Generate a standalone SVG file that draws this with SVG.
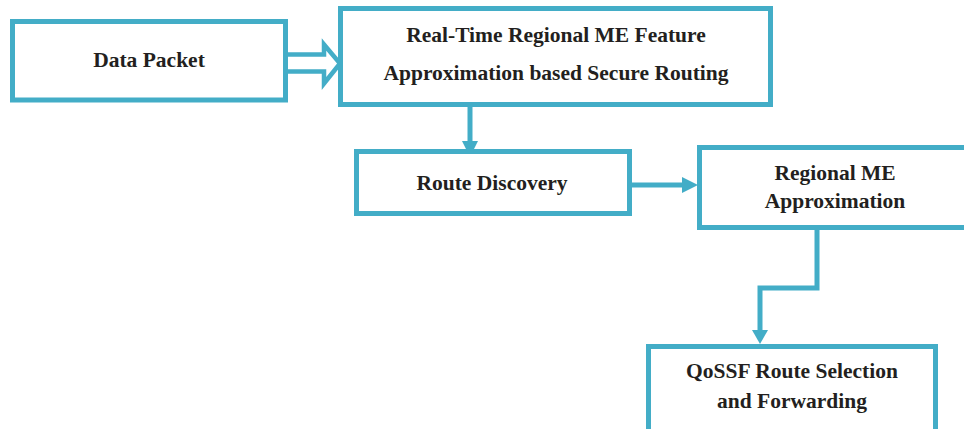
<svg xmlns="http://www.w3.org/2000/svg" width="964" height="429" viewBox="0 0 964 429">
  <defs>
    <style>
      .box { fill: #ffffff; stroke: #43adc7; stroke-width: 5; }
      .link { fill: none; stroke: #43adc7; stroke-width: 5; }
      .head { fill: #43adc7; }
      .label { font-family: "Liberation Serif", "Times New Roman", serif; font-weight: bold; font-size: 21.5px; fill: #231f20; text-anchor: middle; }
    </style>
  </defs>
  <rect width="964" height="429" fill="#ffffff"/>

  <!-- connectors -->
  <g id="connectors">
    <!-- hollow block arrow: Data Packet to secure routing -->
    <path d="M286,54.5 H324 V44.5 L340,63.5 L324,83.5 V71.5 H286" fill="#ffffff" stroke="#43adc7" stroke-width="4.5" stroke-linejoin="miter"/>
    <!-- secure routing to route discovery -->
    <line class="link" x1="470" y1="106" x2="470" y2="143"/>
    <polygon class="head" points="462,141 478,141 470,157"/>
    <!-- route discovery to regional ME approximation -->
    <line class="link" x1="632" y1="185" x2="684" y2="185"/>
    <polygon class="head" points="682,177 682,193 698,185"/>
    <!-- regional ME approximation to QoSSF selection -->
    <polyline class="link" points="817,229 817,288 760,288 760,332"/>
    <polygon class="head" points="752,330 768,330 760,344"/>
  </g>

  <g id="data-packet">
    <rect class="box" x="12.5" y="21.5" width="273" height="78.5"/>
    <text class="label" x="149" y="67">Data Packet</text>
  </g>

  <g id="secure-routing">
    <rect class="box" x="340.5" y="8.5" width="430" height="96"/>
    <text class="label" x="556" y="42">Real-Time Regional ME Feature</text>
    <text class="label" x="556" y="80">Approximation based Secure Routing</text>
  </g>

  <g id="route-discovery">
    <rect class="box" x="356.5" y="151.5" width="273" height="62"/>
    <text class="label" x="492" y="190">Route Discovery</text>
  </g>

  <g id="regional-me">
    <rect class="box" x="699.5" y="147.5" width="280" height="80"/>
    <text class="label" x="835" y="180">Regional ME</text>
    <text class="label" x="835" y="208">Approximation</text>
  </g>

  <g id="qossf-selection">
    <rect class="box" x="648.5" y="346.5" width="287" height="100"/>
    <text class="label" x="792" y="378">QoSSF Route Selection</text>
    <text class="label" x="792" y="408">and Forwarding</text>
  </g>
</svg>
